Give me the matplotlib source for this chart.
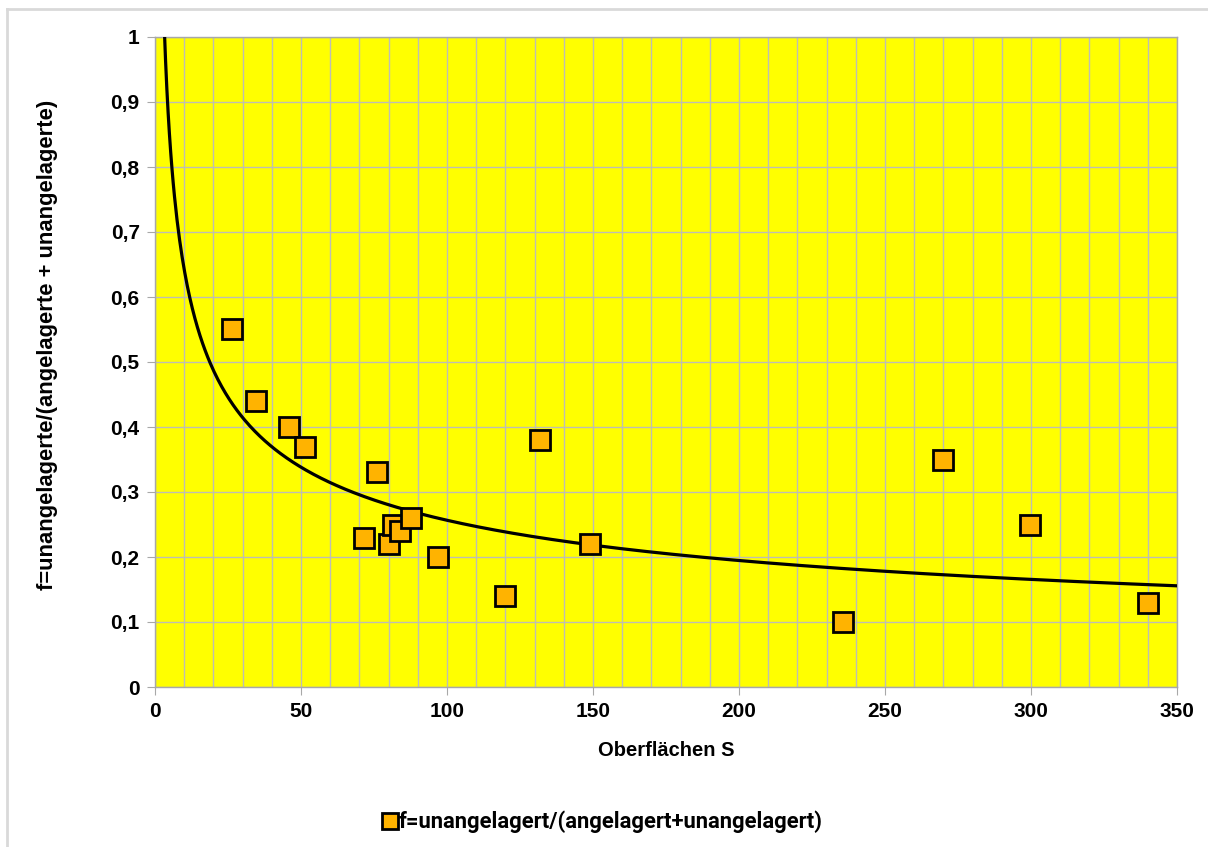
import numpy as np
import matplotlib
matplotlib.use('Agg')
import matplotlib.pyplot as plt
from matplotlib.lines import Line2D
from matplotlib.ticker import MultipleLocator, FuncFormatter

plt.rcParams['font.family'] = ['Liberation Sans', 'DejaVu Sans']

# Oberflaechen S und Anteil f der unangelagerten
S = [26.5, 34.5, 46, 51.5, 76, 71.5, 80, 81.5, 84, 87.5, 97, 120, 132, 149,
     235.5, 270, 299.5, 340]
f = [0.55, 0.44, 0.40, 0.37, 0.33, 0.23, 0.22, 0.25, 0.24, 0.26, 0.20, 0.14,
     0.38, 0.22, 0.10, 0.35, 0.25, 0.13]

x_label = 'Oberflächen S'
y_label = 'f=unangelagerte/(angelagerte + unangelagerte)'
legend_label = 'f=unangelagert/(angelagert+unangelagert)'

# Potenz-Trendlinie f = a * S^b (Fit in log-log)
b, ln_a = np.polyfit(np.log(S), np.log(f), 1)
a = np.exp(ln_a)
s_fit = np.linspace(1, 350, 800)
f_fit = a * s_fit ** b

fig = plt.figure(figsize=(12.08, 8.47), dpi=100)
ax = fig.add_axes([155 / 1208, 160 / 847, 1022 / 1208, 650 / 847])
ax.set_facecolor('#FFFF00')

ax.plot(s_fit, f_fit, color='black', lw=2.3, zorder=3)
ax.plot(S, f, ls='none', marker='s', ms=14, mfc='#FFB300', mec='black',
        mew=2.0, zorder=4)

ax.set_xlim(0, 350)
ax.set_ylim(0, 1)
ax.xaxis.set_major_locator(MultipleLocator(50))
ax.xaxis.set_minor_locator(MultipleLocator(10))
ax.yaxis.set_major_locator(MultipleLocator(0.1))
ax.yaxis.set_major_formatter(FuncFormatter(
    lambda v, p: ('%g' % round(v, 1)).replace('.', ',')))

ax.grid(which='both', axis='x', color='#BEBEB4', lw=1.0, zorder=1)
ax.grid(which='major', axis='y', color='#BEBEB4', lw=1.0, zorder=1)
ax.set_axisbelow(True)
for sp in ax.spines.values():
    sp.set_color('#A8A8A8')
    sp.set_linewidth(1.0)

ax.tick_params(which='major', length=6, color='#A8A8A8', labelsize=15,
               pad=5)
ax.tick_params(which='minor', length=0)
for lab in ax.get_xticklabels() + ax.get_yticklabels():
    lab.set_fontweight('bold')

ax.set_xlabel(x_label, fontsize=14.5, fontweight='bold', labelpad=14)
ax.set_ylabel(y_label, fontsize=15.8, fontweight='bold')
ax.yaxis.set_label_coords(-0.095, 0.526)

handle = Line2D([], [], ls='none', marker='s', ms=11, mfc='#FFB300',
                mec='black', mew=2.0)
fig.legend([handle], [legend_label], loc='center',
           bbox_to_anchor=(603 / 1208, 1 - 822 / 847),
           frameon=False, handlelength=0.6, handletextpad=0.1,
           prop={'family': 'Roboto', 'weight': 'bold', 'size': 15.8})

# Rahmen des Diagrammbereichs (oben und links)
fig.add_artist(Line2D([7 / 1208, 7 / 1208], [0, 1 - 9 / 847],
                      transform=fig.transFigure, color='#D9D9D9', lw=2))
fig.add_artist(Line2D([7 / 1208, 1], [1 - 9 / 847, 1 - 9 / 847],
                      transform=fig.transFigure, color='#D9D9D9', lw=2))

fig.savefig('out.png', dpi=100)
